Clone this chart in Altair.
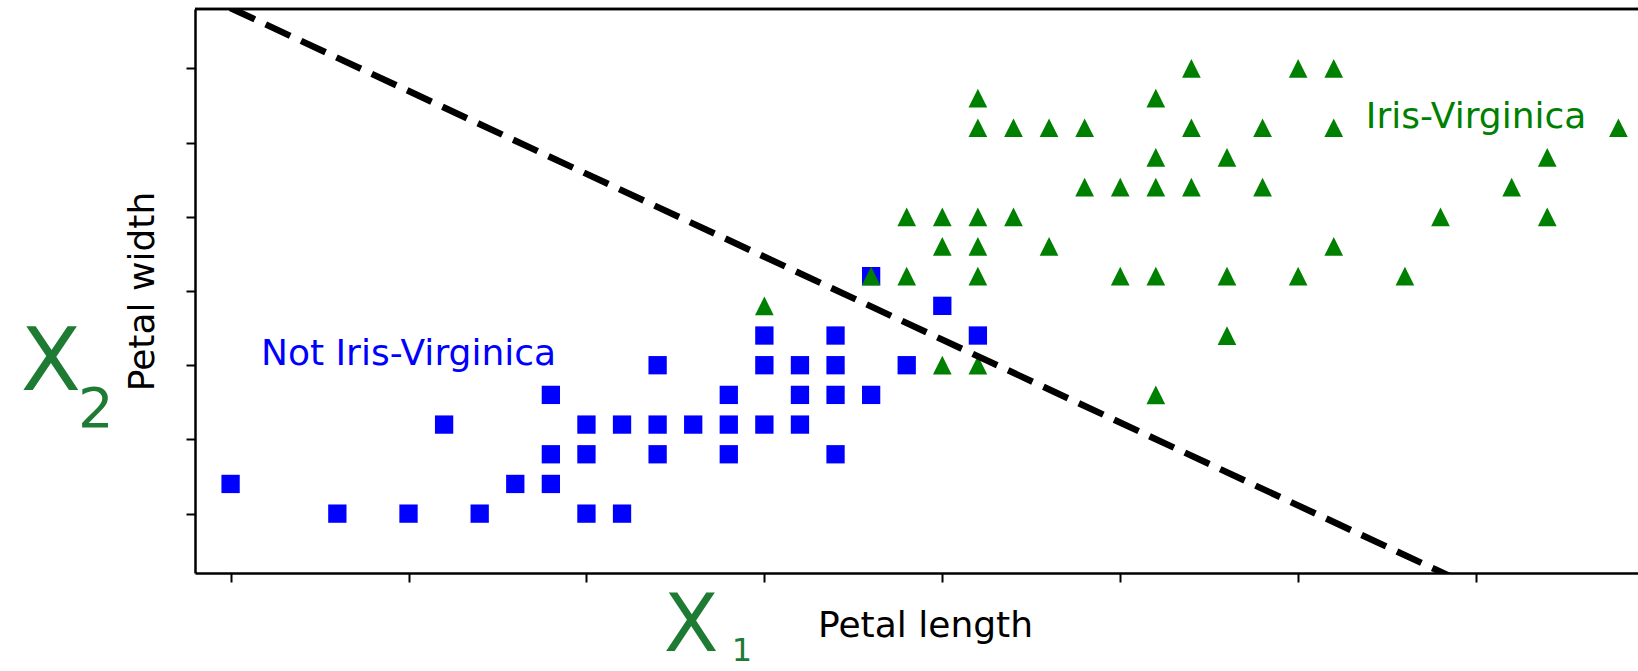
import altair as alt
import pandas as pd

# ---- data ----
# Not Iris-Virginica (blue squares)
not_virg_length = [3.0, 3.3, 3.5, 3.6, 3.7, 3.8, 3.9, 3.9, 3.9, 4.0, 4.0, 4.0,
                   4.1, 4.1, 4.2, 4.2, 4.2, 4.3, 4.4, 4.4, 4.4, 4.5, 4.5, 4.5,
                   4.6, 4.6, 4.6, 4.7, 4.7, 4.7, 4.7, 4.8, 4.8, 4.9, 5.0, 5.1]
not_virg_width = [1.1, 1.0, 1.0, 1.3, 1.0, 1.1, 1.4, 1.2, 1.1, 1.3, 1.2, 1.0,
                  1.3, 1.0, 1.5, 1.3, 1.2, 1.3, 1.4, 1.3, 1.2, 1.6, 1.5, 1.3,
                  1.5, 1.4, 1.3, 1.6, 1.5, 1.4, 1.2, 1.8, 1.4, 1.5, 1.7, 1.6]

# Iris-Virginica (green triangles)
virg_length = [5.7, 6.0, 6.1,
               5.1, 5.6,
               5.1, 5.2, 5.3, 5.4, 5.7, 5.9, 6.1, 6.9,
               5.6, 5.8, 6.7,
               5.4, 5.5, 5.6, 5.7, 5.9, 6.6,
               4.9, 5.0, 5.1, 5.2, 6.4, 6.7,
               5.0, 5.1, 5.3, 6.1,
               4.8, 4.9, 5.1, 5.5, 5.6, 5.8, 6.0, 6.3,
               4.5, 5.8, 5.0, 5.1, 5.6]
virg_width = [2.5, 2.5, 2.5,
              2.4, 2.4,
              2.3, 2.3, 2.3, 2.3, 2.3, 2.3, 2.3, 2.3,
              2.2, 2.2, 2.2,
              2.1, 2.1, 2.1, 2.1, 2.1, 2.1,
              2.0, 2.0, 2.0, 2.0, 2.0, 2.0,
              1.9, 1.9, 1.9, 1.9,
              1.8, 1.8, 1.8, 1.8, 1.8, 1.8, 1.8, 1.8,
              1.7, 1.6, 1.5, 1.5, 1.4]

# decision boundary (dashed line)
boundary_length = [2.9, 7.0]
boundary_width = [2.759, 0.469]

# class labels
label_text = ["Not Iris-Virginica", "Iris-Virginica"]
label_length = [3.5, 6.5]
label_width = [1.5, 2.3]
label_color = ["#0000ff", "#008000"]

# handwritten annotations
note_text = ["X", "2", "X", "1"]
note_length = [2.495, 2.621, 4.294, 4.437]
note_width = [1.418, 1.293, 0.536, 0.503]
note_size = [88, 56, 80, 32]

# ticks (no labels shown)
x_ticks = [3.0, 3.5, 4.0, 4.5, 5.0, 5.5, 6.0, 6.5, 7.0]
y_ticks = [1.0, 1.25, 1.5, 1.75, 2.0, 2.25, 2.5]

df_not = pd.DataFrame({"length": not_virg_length, "width": not_virg_width})
df_virg = pd.DataFrame({"length": virg_length, "width": virg_width})
df_line = pd.DataFrame({"length": boundary_length, "width": boundary_width})
df_lab = pd.DataFrame({"length": label_length, "width": label_width,
                       "text": label_text, "color": label_color})
df_note = pd.DataFrame({"length": note_length, "width": note_width,
                        "text": note_text, "size": note_size})

xscale = alt.Scale(domain=[2.9, 6.955], nice=False, zero=False)
yscale = alt.Scale(domain=[0.8, 2.7], nice=False, zero=False)

xaxis = alt.Axis(values=x_ticks, labels=False, grid=False, domain=True,
                 domainColor="black", domainWidth=2.5, ticks=True,
                 tickColor="black", tickWidth=2, tickSize=9,
                 title="Petal length", titleFont="DejaVu Sans",
                 titleFontSize=36, titleFontWeight="normal", titleColor="black",
                 titleX=730, titleY=63, titleAlign="center",
                 titleBaseline="alphabetic")
yaxis = alt.Axis(values=y_ticks, labels=False, grid=False, domain=True,
                 domainColor="black", domainWidth=2.5, ticks=True,
                 tickColor="black", tickWidth=2, tickSize=9,
                 title="Petal width", titleFont="DejaVu Sans",
                 titleFontSize=36, titleFontWeight="normal", titleColor="black",
                 titleAngle=270, titleX=-41.5, titleY=282, titleAlign="center",
                 titleBaseline="alphabetic")

X = alt.X("length:Q", scale=xscale, axis=xaxis)
Y = alt.Y("width:Q", scale=yscale, axis=yaxis)

squares = alt.Chart(df_not).mark_point(
    shape="square", filled=True, color="#0000ff", size=335, opacity=1
).encode(x=X, y=Y)

triangles = alt.Chart(df_virg).mark_point(
    shape="M0,-1L1,1L-1,1Z", filled=True, color="#008000", size=350, opacity=1
).encode(x=X, y=Y)

line = alt.Chart(df_line).mark_line(
    color="black", strokeWidth=6.5, strokeDash=[27, 12], clip=True
).encode(x=X, y=Y)

labels = alt.Chart(df_lab).mark_text(
    font="DejaVu Sans", fontSize=36, align="center", baseline="alphabetic"
).encode(x=X, y=Y, text="text:N", color=alt.Color("color:N", scale=None))

notes = alt.Chart(df_note).mark_text(
    font="DejaVu Sans", align="center", baseline="alphabetic", color="#1e7b34"
).encode(x=X, y=Y, text="text:N", size=alt.Size("size:Q", scale=None))

top_border = alt.Chart(df_line).mark_rule(color="black", strokeWidth=2.5).encode(
    y=alt.value(0)
)

chart = alt.layer(squares, triangles, line, labels, notes, top_border).properties(
    width=1443, height=564,
    autosize=alt.AutoSizeParams(type="none"),
    padding={"left": 195, "top": 9, "right": 0, "bottom": 98},
).configure_view(stroke=None).configure(background="white")

chart.save("out.html", embed_options={"renderer": "svg", "actions": False})
